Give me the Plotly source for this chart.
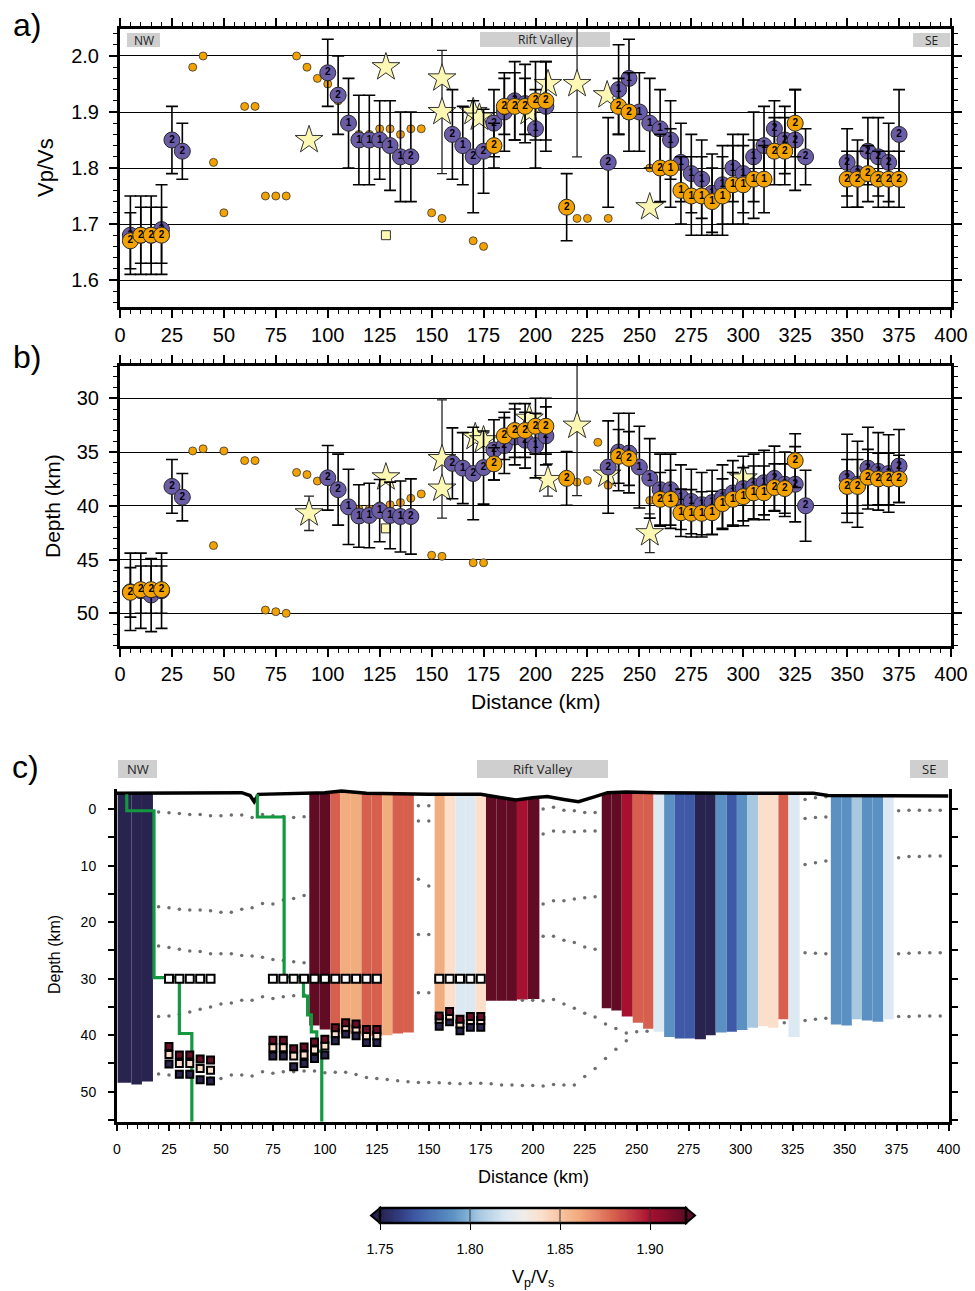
import numpy as np
import plotly.graph_objects as go

FONT = "Liberation Sans"
W, H = 975, 1291

# ---------------- station estimates (panels a and b) ----------------
stn_p = [5, 10, 15, 20, 25, 30,
         100, 105, 110, 115, 120, 125, 130, 135, 140,
         160, 165, 170, 175, 180, 185, 190, 195, 200, 205,
         235, 240, 245, 250, 255, 260, 265, 270, 275, 280, 285, 290, 295, 300, 305, 310, 315, 320, 325, 330,
         350, 355, 360, 365, 370, 375]
p_label = (["2"] * 6 + ["2", "2"] + ["1"] * 6 + ["2"]
           + ["2", "1", "2", "2", "2", "2", "2", "2", "1", "2"]
           + ["2", "1", "1"] + ["1"] * 13 + ["2"] * 4
           + ["2"] * 6)
p_vpvs = [1.68, 1.68, 1.68, 1.69, 1.85, 1.83,
          1.97, 1.93, 1.88, 1.85, 1.85, 1.85, 1.84, 1.82, 1.82,
          1.86, 1.84, 1.82, 1.83, 1.88, 1.90, 1.92, 1.915, 1.87, 1.91,
          1.81, 1.94, 1.96, 1.90, 1.88, 1.87, 1.85, 1.81, 1.79, 1.78, 1.755, 1.77, 1.80, 1.79, 1.82, 1.84, 1.87, 1.85, 1.85, 1.82,
          1.81, 1.79, 1.83, 1.82, 1.81, 1.86]
p_vpvs_err = [0.07, 0.07, 0.07, 0.08, 0.06, 0.05,
              0.06, 0.07, 0.08, 0.08, 0.08, 0.07, 0.08, 0.08, 0.08,
              0.08, 0.07, 0.10, 0.075, 0.06, 0.07, 0.07, 0.07, 0.07, 0.08,
              0.08, 0.08, 0.07, 0.07, 0.08, 0.07, 0.07, 0.07, 0.07, 0.07, 0.07, 0.07, 0.06, 0.07, 0.08, 0.07, 0.05, 0.06, 0.09, 0.05,
              0.06, 0.06, 0.06, 0.07, 0.07, 0.08]
p_depth = [48.0, 47.9, 48.3, 47.9, 38.2, 39.2,
           37.4, 38.5, 40.1, 40.95, 40.9, 40.45, 40.9, 41.0, 41.0,
           36.05, 36.5, 37.0, 36.45, 34.8, 34.4, 33.6, 33.9, 34.4, 33.5,
           36.4, 35.0, 35.1, 36.4, 37.45, 38.5, 38.5, 39.2, 39.6, 39.9, 39.7, 39.2, 38.8, 38.4, 38.2, 37.85, 37.45, 38.0, 38.0, 40.0,
           37.45, 38.0, 36.5, 36.8, 37.0, 36.3]
p_depth_err = [3.6, 3.5, 3.4, 3.5, 2.5, 2.2,
               3.0, 3.3, 3.5, 2.9, 3.0, 2.9, 3.1, 3.3, 3.5,
               3.3, 3.3, 4.3, 3.4, 2.8, 2.6, 2.6, 2.6, 3.0, 2.7,
               4.3, 3.6, 3.7, 3.8, 3.7, 3.3, 3.3, 3.0, 3.0, 3.0, 3.0, 3.0, 3.0, 3.0, 3.0, 3.0, 3.0, 3.0, 3.5, 3.3,
               4.1, 4.0, 3.8, 3.6, 3.6, 3.4]

stn_o = [5, 10, 15, 20,
         180, 185, 190, 195, 200, 205, 215,
         240, 245,
         260, 265, 270, 275, 280, 285, 290, 295, 300, 305, 310, 315, 320, 325,
         350, 355, 360, 365, 370, 375]
o_label = (["2"] * 4 + ["2"] * 7 + ["2"] * 2 + ["2"] + ["1"] * 10 + ["2"] * 3 + ["2"] * 6)
o_vpvs = [1.67, 1.68, 1.68, 1.68,
          1.84, 1.91, 1.91, 1.91, 1.92, 1.92, 1.73,
          1.91, 1.90,
          1.80, 1.80, 1.76, 1.75, 1.75, 1.74, 1.75, 1.77, 1.77, 1.78, 1.78, 1.83, 1.83, 1.88,
          1.78, 1.78, 1.79, 1.78, 1.78, 1.78]
o_vpvs_err = [0.05, 0.05, 0.05, 0.05,
              0.04, 0.05, 0.06, 0.05, 0.07, 0.07, 0.06,
              0.05, 0.07,
              0.06, 0.07, 0.06, 0.07, 0.07, 0.06, 0.07, 0.07, 0.07, 0.07, 0.06, 0.06, 0.06, 0.06,
              0.05, 0.05, 0.05, 0.05, 0.05, 0.05]
o_depth = [48.05, 47.8, 47.8, 47.8,
           36.1, 33.5, 33.0, 33.0, 32.6, 32.6, 37.45,
           35.4, 35.6,
           39.4, 39.4, 40.65, 40.7, 40.7, 40.65, 39.8, 39.4, 39.15, 38.8, 38.8, 38.3, 38.4, 35.8,
           38.2, 38.2, 37.35, 37.5, 37.5, 37.5]
o_depth_err = [2.3, 2.2, 2.2, 2.2,
               1.5, 2.2, 2.5, 2.5, 2.6, 2.6, 2.5,
               2.5, 2.5,
               2.5, 2.7, 2.2, 2.2, 2.0, 2.0, 2.3, 2.5, 2.7, 2.5, 2.5, 2.2, 2.3, 2.5,
               2.5, 2.5, 2.6, 2.4, 2.4, 2.2]

# single-phase picks (small dots)
dot_km_a = [35, 40, 45, 50, 60, 65, 70, 75, 80, 85, 90, 95, 100, 105, 115, 120, 125, 130, 135, 140, 145,
            150, 155, 170, 175, 220, 225, 235, 255]
dot_vpvs = [1.98, 2.00, 1.81, 1.72, 1.91, 1.91, 1.75, 1.75, 1.75, 2.00, 1.98, 1.96, 1.95, 1.92, 1.86, 1.86,
            1.87, 1.87, 1.86, 1.87, 1.87, 1.72, 1.71, 1.67, 1.66, 1.71, 1.71, 1.71, 1.80]
dot_km_b = [35, 40, 45, 50, 60, 65, 70, 75, 80, 85, 90, 95, 115, 120, 125, 130, 135, 140, 145,
            150, 155, 170, 175, 220, 225, 230, 235, 255]
dot_depth = [34.9, 34.7, 43.7, 34.9, 35.8, 35.8, 49.7, 49.85, 50.0, 36.9, 37.1, 37.7, 40.3, 40.3, 40.0,
             39.9, 39.7, 39.3, 38.9, 44.6, 44.7, 45.3, 45.3, 37.8, 37.65, 34.1, 38.1, 39.5]

# previous studies (stars and square)
star_km_a = [91, 128, 155, 155, 170, 173, 197, 206, 220, 234.5, 255]
star_vpvs = [1.85, 1.98, 1.96, 1.90, 1.90, 1.89, 1.90, 1.95, 1.95, 1.93, 1.73]
star_vpvs_err = [0, 0, 0, 0.11, 0, 0, 0, 0, 0.13, 0, 0]
star_km_b = [91, 128, 155, 155, 171, 175, 197, 206, 220, 234.5, 255, 300]
star_depth = [40.7, 37.35, 35.65, 38.4, 33.6, 33.9, 31.9, 37.6, 32.55, 37.1, 42.55, 37.45]
star_depth_err = [1.6, 0, 5.5, 0, 0, 0, 0, 1.5, 6.5, 0, 1.8, 0]
sq_km = [128]
sq_vpvs = [1.68]
sq_depth = [42.1]

# ---------------- cross-section (panel c) ----------------
topo_km = [0, 30, 60, 64, 66, 68, 85, 100, 108, 120, 150, 175, 185, 192, 200, 207, 215, 222, 230, 236,
           245, 260, 300, 335, 342, 355, 380, 400]
topo_depth = [-2.8, -2.8, -2.9, -2.4, -1.3, -2.6, -2.7, -2.9, -3.2, -2.8, -2.6, -2.6, -2.0, -1.6, -2.0,
              -2.2, -1.7, -1.3, -2.2, -2.9, -3.0, -2.9, -2.8, -2.8, -2.4, -2.4, -2.4, -2.3]

col_left = [0.3, 6.9, 12.0, 92.5, 97.5, 102.7, 107.5, 112.5, 117.6, 122.5, 127.6, 132.5, 137.6,
            152.8, 157.7, 162.8, 167.5, 172.4, 177.5, 182.5, 187.5, 192.4, 197.6,
            233.2, 237.8, 242.8, 248.1, 253.1, 258.1, 263.2, 268.3, 273.2, 278.0, 283.3, 288.0, 293.3,
            298.2, 303.3, 308.4, 313.2, 318.2, 323.0,
            343.4, 348.5, 353.5, 358.3, 363.5, 368.6]
col_right = [6.9, 12.0, 17.3, 97.5, 102.7, 107.5, 112.5, 117.6, 122.5, 127.6, 132.5, 137.6, 142.8,
             157.7, 162.8, 167.5, 172.4, 177.5, 182.5, 187.5, 192.4, 197.6, 203.2,
             237.8, 242.8, 248.1, 253.1, 258.1, 263.2, 268.3, 273.2, 278.0, 283.3, 288.0, 293.3, 298.2,
             303.3, 308.4, 313.2, 318.2, 323.0, 328.4,
             348.5, 353.5, 358.3, 363.5, 368.6, 373.6]
col_bottom = [48.4, 48.7, 48.2, 38.3, 39.0, 38.9, 39.8, 39.8, 40.1, 40.1, 40.0, 39.7, 39.5,
              35.8, 35.3, 36.8, 36.8, 36.2, 33.9, 33.9, 33.9, 33.7, 33.6,
              35.25, 35.65, 36.7, 37.8, 38.85, 39.4, 40.3, 40.6, 40.6, 40.7, 40.0, 39.5, 39.4,
              39.1, 38.7, 38.4, 38.7, 37.2, 40.3,
              38.1, 38.3, 37.2, 37.4, 37.6, 37.2]
col_vpvs = [1.74, 1.74, 1.74, 1.93, 1.93, 1.88, 1.86, 1.86, 1.88, 1.88, 1.86, 1.88, 1.88,
            1.86, 1.84, 1.82, 1.82, 1.84, 1.93, 1.93, 1.93, 1.90, 1.93,
            1.93, 1.93, 1.90, 1.88, 1.88, 1.82, 1.79, 1.77, 1.77, 1.74, 1.74, 1.79, 1.77,
            1.79, 1.805, 1.84, 1.84, 1.88, 1.82,
            1.79, 1.79, 1.805, 1.79, 1.79, 1.82]

# Moho depth: assumed (30 km) and converted with high / mid / low Vp/Vs
moho_km = [25, 30, 35, 40, 45, 75, 80, 85, 90, 95, 100, 105, 110, 115, 120, 125, 155, 160, 165, 170, 175]
moho_ref = [30] * len(moho_km)
moho_high = [42.0, 43.5, 43.5, 44.2, 44.4, 40.9, 40.9, 42.4, 42.1, 41.2, 40.7, 38.7, 37.8, 38.0, 39.0, 39.0,
             36.6, 35.8, 37.2, 36.7, 36.7]
moho_mid = [43.4, 45.0, 45.0, 45.9, 46.2, 42.2, 42.2, 43.7, 43.5, 42.6, 41.9, 39.7, 38.6, 38.9, 40.1, 40.1,
            37.2, 36.6, 38.0, 37.4, 37.4]
moho_low = [45.1, 46.9, 46.9, 47.9, 48.1, 43.7, 43.7, 45.6, 45.0, 44.1, 43.5, 41.0, 39.8, 40.1, 41.3, 41.3,
            38.4, 37.6, 39.2, 38.6, 38.6]

# 1-D velocity step profiles
prof1_km = [4.7, 17.8, 30, 36, 36]
prof1_depth = [-2.6, 0.3, 29.8, 39.7, 55.3]
prof2_km = [67.5, 80.4, 89.7, 91.7, 93.5, 96.1, 98.5, 98.5]
prof2_depth = [-2.6, 1.4, 29.7, 33.1, 36.4, 39.4, 42.8, 55.3]

# crustal model interfaces (visible samples)
km_w = [20, 25, 30, 35, 40, 45, 50, 55, 60, 65, 70, 75, 80, 85, 90]
km_n = [145, 150]
km_r = [205, 210, 215, 220, 225, 230]
km_e = [331, 336, 341]
km_f = [376, 381, 386, 391, 396]
if1_km = km_w + km_n + km_r + km_e + km_f
if1_depth = ([0.5, 0.65, 0.8, 0.95, 0.95, 1.2, 1.2, 1.05, 1.05, 1.5, 0.95, 1.2, 1.3, 1.5, 1.35]
             + [-0.6, -0.6] + [0.0, -0.3, 0.2, 0.3, 0.6, 0.6] + [-1.7, -2.0, -2.2] + [0.3, 0.2, 0.2, 0.2, 0.2])
if2_km = km_n + km_r + km_e
if2_depth = [2.1, 2.1] + [4.4, 3.9, 4.0, 4.0, 3.9, 3.9] + [1.65, 1.5, 1.4]
if3_km = km_w + km_n + km_r + km_e + km_f
if3_depth = ([17.3, 17.45, 17.7, 17.85, 17.85, 18.0, 18.25, 18.25, 17.7, 17.45, 16.7, 16.8, 16.1, 15.8, 15.3]
             + [12.4, 13.6] + [16.8, 16.2, 16.2, 15.9, 15.7, 15.5] + [9.8, 9.5, 9.2] + [8.6, 8.4, 8.4, 8.3, 8.3])
if4_km = km_w + km_n + km_r + km_e + km_f
if4_depth = ([24.2, 24.5, 24.8, 25.1, 25.2, 25.6, 25.6, 25.6, 25.9, 26.0, 26.2, 26.6, 26.8, 27.0, 27.2]
             + [22.2, 22.2] + [22.5, 22.5, 23.2, 23.6, 24.4, 24.8] + [25.4, 25.5, 25.6] + [25.6, 25.5, 25.4, 25.4, 25.4])
if5_km = km_w + km_n + [195, 200, 205, 210, 215, 220, 225, 230, 235, 240, 245, 250, 255]
if5_depth = ([36.7, 36.6, 36.3, 35.9, 35.4, 35.0, 34.5, 34.3, 33.8, 33.8, 33.2, 33.5, 33.2, 33.0, 32.8]
             + [32.5, 32.5] + [33.8, 33.8, 33.9, 33.7, 34.5, 35.25, 36.1, 36.8, 38.0, 38.8, 39.6, 39.4, 39.3])
if6_km = ([20, 25, 30, 35, 40, 45, 50, 55, 60, 65, 70, 75, 80, 85, 90, 95, 100, 105, 110, 115, 120, 125, 130,
           135, 140, 145, 150, 155, 160, 165, 170, 175, 180, 185, 190, 195, 200, 205, 210, 215, 220, 225, 230,
           235, 240, 245] + [321] + km_e + km_f)
if6_depth = ([46.87, 47.05, 47.17, 47.35, 47.46, 47.58, 47.64, 47.05, 47.05, 47.23, 46.46, 46.75, 46.46, 46.46,
              46.34, 46.34, 46.63, 46.57, 46.57, 46.93, 47.46, 47.64, 47.82, 48.05, 48.23, 48.35, 48.35, 48.4,
              48.5, 48.6, 48.5, 48.5, 48.6, 48.8, 48.8, 48.9, 48.9, 49.0, 48.7, 48.8, 48.8, 47.3, 45.9, 44.1,
              42.5, 41.0] + [37.8] + [37.4, 37.2, 37.0] + [36.7, 36.7, 36.6, 36.6, 36.6])

# Vp/Vs colour table
cs_vpvs = [1.75, 1.76, 1.77, 1.79, 1.80, 1.805, 1.82, 1.83, 1.84, 1.85, 1.86, 1.87, 1.88, 1.89, 1.90, 1.91, 1.92]
cs_colors = ["#28234f", "#303a7c", "#3e5aa6", "#5b90c3", "#86b4d8", "#a8c8e0", "#dce8f2", "#f0ecea",
             "#fbdfcb", "#f7c4a2", "#f2ad7f", "#e6876a", "#d6604d", "#c03942", "#a81030", "#840d2b", "#610b25"]
cb_ticks = [1.75, 1.80, 1.85, 1.90]

# ---------------- drawing ----------------
VMIN, VMAX = cs_vpvs[0], cs_vpvs[-1]
colorscale = [[(v - VMIN) / (VMAX - VMIN), c] for v, c in zip(cs_vpvs, cs_colors)]

PURPLE = "#6b5ca8"
ORANGE = "#f3a200"
STARC = "#fcf8b3"


def xp(px):
    return px / W


def yp(py):
    return 1 - py / H


fig = go.Figure()


def add_panel(xa, ya, dkm, dval, skm, sval, serr, sqv, pv, pe, ov, oe):
    fig.add_trace(go.Scatter(x=dkm, y=dval, mode="markers", xaxis=xa, yaxis=ya, hoverinfo="skip",
                             marker=dict(size=8, color=ORANGE, line=dict(color="#333", width=0.8))))
    fig.add_trace(go.Scatter(x=skm, y=sval, mode="markers", xaxis=xa, yaxis=ya, hoverinfo="skip",
                             marker=dict(symbol="star", size=21, color=STARC, line=dict(color="#333", width=1)),
                             error_y=dict(type="data", array=serr, color="#222", thickness=1.3, width=5)))
    fig.add_trace(go.Scatter(x=sq_km, y=sqv, mode="markers", xaxis=xa, yaxis=ya, hoverinfo="skip",
                             marker=dict(symbol="square", size=9, color=STARC, line=dict(color="#333", width=1))))
    for xs, vals, errs, labs, col in ((stn_p, pv, pe, p_label, PURPLE), (stn_o, ov, oe, o_label, ORANGE)):
        fig.add_trace(go.Scatter(
            x=xs, y=vals, mode="markers+text", text=labs, textposition="middle center",
            textfont=dict(size=10, color="black", family=FONT, weight="bold"),
            xaxis=xa, yaxis=ya, hoverinfo="skip",
            marker=dict(size=16, color=col, line=dict(color="#2a2a2a", width=1)),
            error_y=dict(type="data", array=errs, color="black", thickness=1.6, width=6)))


add_panel("x", "y", dot_km_a, dot_vpvs, star_km_a, star_vpvs, star_vpvs_err, sq_vpvs,
          p_vpvs, p_vpvs_err, o_vpvs, o_vpvs_err)
add_panel("x2", "y2", dot_km_b, dot_depth, star_km_b, star_depth, star_depth_err, sq_depth,
          p_depth, p_depth_err, o_depth, o_depth_err)

# panel c: interfaces
for ikm, idep in ((if1_km, if1_depth), (if2_km, if2_depth), (if3_km, if3_depth),
                  (if4_km, if4_depth), (if5_km, if5_depth), (if6_km, if6_depth)):
    fig.add_trace(go.Scatter(x=ikm, y=idep, mode="markers", xaxis="x3", yaxis="y3", hoverinfo="skip",
                             marker=dict(size=3.5, color="#6e6e6e")))

# panel c: Vp/Vs columns hanging from the surface
cl = np.array(col_left)
cr = np.array(col_right)
cx = (cl + cr) / 2
ctop = np.interp(cx, topo_km, topo_depth)
fig.add_trace(go.Bar(x=cx, y=np.array(col_bottom) - ctop, base=ctop, width=cr - cl,
                     xaxis="x3", yaxis="y3", hoverinfo="skip",
                     marker=dict(color=col_vpvs, colorscale=colorscale, cmin=VMIN, cmax=VMAX,
                                 line=dict(width=0))))

# surface
fig.add_trace(go.Scatter(x=topo_km, y=topo_depth, mode="lines", xaxis="x3", yaxis="y3", hoverinfo="skip",
                         line=dict(color="black", width=3.5)))

# velocity step profiles
for pk, pd in ((prof1_km, prof1_depth), (prof2_km, prof2_depth)):
    fig.add_trace(go.Scatter(x=pk, y=pd, mode="lines", xaxis="x3", yaxis="y3", hoverinfo="skip",
                             line=dict(color="#12993f", width=3.2, shape="vh")))

# Moho markers
fig.add_trace(go.Scatter(x=moho_km, y=moho_ref, mode="markers", xaxis="x3", yaxis="y3", hoverinfo="skip",
                         marker=dict(symbol="square", size=8, color="white", line=dict(color="black", width=2))))
for md, mc in ((moho_low, "#2b2650"), (moho_mid, "#fbdfcb"), (moho_high, "#6a0f25")):
    fig.add_trace(go.Scatter(x=moho_km, y=md, mode="markers", xaxis="x3", yaxis="y3", hoverinfo="skip",
                             marker=dict(symbol="square", size=7, color=mc, line=dict(color="black", width=2))))

# colour bar
cb_x = np.arange(VMIN + 0.0005, VMAX, 0.001)
fig.add_trace(go.Heatmap(z=[cb_x], x=cb_x, y=[0.5], colorscale=colorscale, zmin=VMIN, zmax=VMAX,
                         showscale=False, xaxis="x4", yaxis="y4", hoverinfo="skip"))

# ---------------- axes ----------------
tick_font = dict(size=20, family=FONT, color="black")
xab = dict(range=[0, 400], tick0=0, dtick=25, ticks="outside", ticklen=8, tickwidth=1.5, tickcolor="black",
           showline=True, linecolor="black", linewidth=3, mirror="ticks", showgrid=False, zeroline=False,
           tickfont=tick_font, ticklabelstandoff=0, automargin=False,
           minor=dict(tick0=0, dtick=5, ticks="outside", ticklen=4, tickwidth=1, tickcolor="black"))
yab = dict(ticks="outside", ticklen=8, tickwidth=1.5, tickcolor="black", showline=True, linecolor="black",
           linewidth=3, mirror="ticks", showgrid=True, gridcolor="black", gridwidth=1, zeroline=False,
           tickfont=tick_font, ticklabelstandoff=6, automargin=False)

fig.update_layout(
    width=W, height=H, margin=dict(l=0, r=0, t=0, b=0, autoexpand=False),
    paper_bgcolor="white", plot_bgcolor="rgba(0,0,0,0)", showlegend=False, barmode="overlay",
    font=dict(family=FONT, color="black"),
    xaxis=dict(domain=[xp(120), xp(951)], anchor="y", **xab),
    yaxis=dict(domain=[yp(307), yp(29)], anchor="x", range=[1.5518, 2.0482], tick0=1.6, dtick=0.1,
               tickformat=".1f",
               minor=dict(tick0=1.6, dtick=0.02, ticks="outside", ticklen=4, tickwidth=1, tickcolor="black"),
               **yab),
    xaxis2=dict(domain=[xp(120), xp(951)], anchor="y2", **xab),
    yaxis2=dict(domain=[yp(646), yp(366)], anchor="x2", range=[53.04, 27.0], tick0=30, dtick=5,
                minor=dict(tick0=30, dtick=1, ticks="outside", ticklen=4, tickwidth=1, tickcolor="black"),
                **yab),
    xaxis3=dict(domain=[xp(117), xp(948.5)], anchor="y3", range=[0, 400], tick0=0, dtick=25,
                ticks="outside", ticklen=6, tickwidth=1.5, tickcolor="black", showline=True,
                linecolor="black", linewidth=3, mirror=False, showgrid=False, zeroline=False,
                tickfont=dict(size=14, family=FONT, color="black"), ticklabelstandoff=6, automargin=False,
                minor=dict(tick0=0, dtick=5, ticks="outside", ticklen=4, tickwidth=1, tickcolor="black")),
    yaxis3=dict(domain=[yp(1121.7), yp(789)], anchor="x3", range=[55.3, -3.55], tick0=0, dtick=10,
                ticks="outside", ticklen=6, tickwidth=1.5, tickcolor="black", showline=True,
                linecolor="black", linewidth=3, mirror="ticks", showgrid=False, zeroline=False,
                tickfont=dict(size=14, family=FONT, color="black"), ticklabelstandoff=9, automargin=False,
                minor=dict(tick0=0, dtick=5, ticks="outside", ticklen=6, tickwidth=1.5, tickcolor="black")),
    xaxis4=dict(domain=[xp(380), xp(686)], anchor="y4", range=[VMIN, VMAX], tickvals=cb_ticks,
                ticktext=[f"{v:.2f}" for v in cb_ticks], ticks="outside", ticklen=6, tickwidth=1.2,
                tickcolor="black", showline=False, showgrid=False, zeroline=False, automargin=False,
                tickfont=dict(size=14, family=FONT, color="black"), ticklabelstandoff=7),
    yaxis4=dict(domain=[yp(1223), yp(1208)], anchor="x4", range=[0, 1], visible=False, automargin=False),
)

shapes = []
# colour bar frame, end triangles and tick lines
shapes.append(dict(type="path", xref="paper", yref="paper",
                   path=f"M {xp(380)},{yp(1208)} L {xp(371)},{yp(1215.5)} L {xp(380)},{yp(1223)} Z",
                   fillcolor=cs_colors[0], line=dict(color="black", width=2)))
shapes.append(dict(type="path", xref="paper", yref="paper",
                   path=f"M {xp(686)},{yp(1208)} L {xp(695)},{yp(1215.5)} L {xp(686)},{yp(1223)} Z",
                   fillcolor=cs_colors[-1], line=dict(color="black", width=2)))
shapes.append(dict(type="rect", xref="paper", yref="paper", x0=xp(380), x1=xp(686), y0=yp(1223), y1=yp(1208),
                   line=dict(color="black", width=2.5)))
for v in cb_ticks[1:]:
    shapes.append(dict(type="line", xref="x4", yref="y4 domain", x0=v, x1=v, y0=0, y1=1,
                       line=dict(color="#333", width=1)))

# region labels
regions = [  # (left, right, top, bottom, text, font size)
    (127, 160, 33, 47, "NW", 12), (480, 610, 32, 47, "Rift Valley", 12), (913, 950, 33, 47, "SE", 12),
    (118, 157, 760, 778, "NW", 13), (477, 608, 760, 778, "Rift Valley", 13), (910, 948, 760, 778, "SE", 13),
]
annotations = []
for l, r, t, b, txt, fs in regions:
    shapes.append(dict(type="rect", xref="paper", yref="paper", x0=xp(l), x1=xp(r), y0=yp(b), y1=yp(t),
                       fillcolor="#cfcfcf", line=dict(width=0), layer="below"))
    annotations.append(dict(xref="paper", yref="paper", x=xp((l + r) / 2), y=yp((t + b) / 2), text=txt,
                            showarrow=False, font=dict(size=fs, family="Open Sans", color="#222"),
                            xanchor="center", yanchor="middle"))


def label(px, py, txt, size, angle=0):
    annotations.append(dict(xref="paper", yref="paper", x=xp(px), y=yp(py), text=txt, showarrow=False,
                            textangle=angle, font=dict(size=size, family=FONT, color="black"),
                            xanchor="center", yanchor="middle"))


label(27, 25, "a)", 32)
label(27, 357, "b)", 32)
label(25, 767, "c)", 32)
label(45, 168, "Vp/Vs", 22, -90)
label(52, 506, "Depth (km)", 21, -90)
label(536, 701, "Distance (km)", 21)
label(55, 955, "Depth (km)", 16, -90)
label(533, 1177, "Distance (km)", 18)
label(533, 1278, "V<sub>p</sub>/V<sub>s</sub>", 18)

fig.update_layout(shapes=shapes, annotations=annotations)
fig.write_html("out.html")
